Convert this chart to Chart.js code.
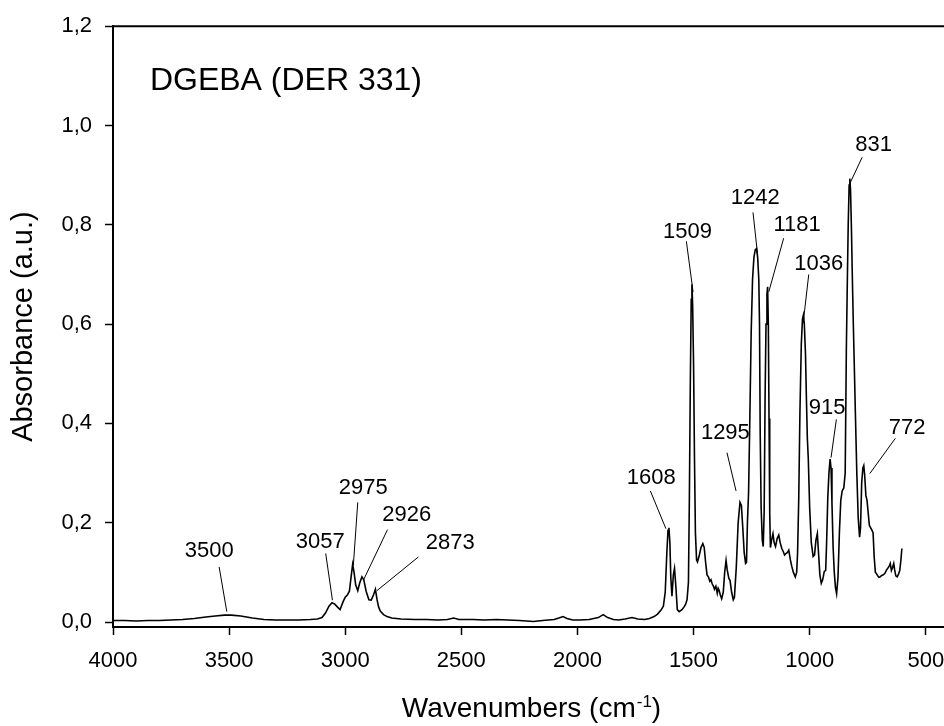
<!DOCTYPE html>
<html>
<head>
<meta charset="utf-8">
<script src="https://cdn.jsdelivr.net/npm/chart.js@4.4.0/dist/chart.umd.min.js"></script>
<style>
  html, body { margin: 0; padding: 0; background: #fff; overflow: hidden; }
  #wrap { width: 952px; height: 726px; }
</style>
</head>
<body>
<div id="wrap"><canvas id="ftirChart" width="952" height="726"></canvas></div>
<script>
// FTIR spectrum (wavenumber in cm-1, absorbance)
const wavenumbers = [
  4000, 3950, 3900, 3850, 3800, 3750, 3700, 3650, 3600, 3560, 3520, 3490, 3450, 3400, 3350, 3300,
  3250, 3200, 3150, 3120, 3100, 3085, 3070, 3057, 3045, 3033, 3022, 3010, 3000, 2990, 2982, 2975,
  2968, 2962, 2955, 2946, 2938, 2928, 2920, 2910, 2898, 2888, 2878, 2870, 2863, 2856, 2849, 2835,
  2820, 2800, 2760, 2700, 2650, 2600, 2560, 2533, 2510, 2450, 2400, 2350, 2300, 2250, 2190, 2150,
  2100, 2080, 2062, 2045, 2020, 1990, 1950, 1910, 1889, 1870, 1845, 1822, 1795, 1765, 1740, 1710,
  1690, 1670, 1655, 1640, 1630, 1622, 1615, 1610, 1606, 1602, 1598, 1593, 1587, 1582, 1576, 1570,
  1562, 1550, 1540, 1534, 1528, 1522, 1518, 1514, 1510, 1507, 1504, 1500, 1496, 1492, 1487, 1483,
  1475, 1468, 1460, 1454, 1448, 1442, 1436, 1430, 1425, 1420, 1414, 1410, 1404, 1398, 1394, 1390,
  1385, 1379, 1372, 1366, 1360, 1355, 1348, 1343, 1336, 1329, 1324, 1316, 1308, 1300, 1294, 1288,
  1282, 1276, 1272, 1268, 1263, 1258, 1252, 1246, 1240, 1234, 1229, 1224, 1219, 1216, 1213, 1209,
  1204, 1200, 1196, 1192, 1188, 1184, 1181, 1178, 1175, 1172, 1169, 1164, 1158, 1153, 1147, 1140,
  1133, 1127, 1120, 1114, 1108, 1102, 1096, 1090, 1083, 1077, 1070, 1062, 1056, 1052, 1047, 1042,
  1036, 1031, 1027, 1023, 1018, 1014, 1010, 1006, 1000, 993, 985, 979, 973, 967, 962, 956,
  950, 944, 937, 931, 927, 922, 917, 912, 908, 904, 899, 894, 889, 884, 878, 872,
  866, 860, 853, 847, 842, 838, 834, 830, 827, 824, 820, 817, 812, 808, 803, 797,
  791, 785, 781, 776, 771, 767, 763, 758, 753, 748, 743, 739, 733, 727, 722, 717,
  713, 708, 702, 696, 690, 683, 676, 670, 664, 658, 653, 648, 643, 638, 634, 629,
  623, 617, 612, 607, 603
];
const absorbance = [
  0.003, 0.003, 0.002, 0.003, 0.003, 0.004, 0.005, 0.007, 0.010, 0.012, 0.014, 0.014, 0.012, 0.008, 0.005, 0.004,
  0.004, 0.004, 0.005, 0.006, 0.009, 0.018, 0.032, 0.039, 0.036, 0.030, 0.025, 0.040, 0.050, 0.055, 0.062, 0.090,
  0.116, 0.100, 0.075, 0.063, 0.078, 0.091, 0.085, 0.062, 0.045, 0.044, 0.055, 0.066, 0.045, 0.030, 0.022, 0.015,
  0.011, 0.008, 0.006, 0.005, 0.005, 0.004, 0.005, 0.008, 0.005, 0.005, 0.004, 0.005, 0.004, 0.003, 0.001, 0.003,
  0.005, 0.008, 0.011, 0.007, 0.004, 0.004, 0.005, 0.009, 0.015, 0.009, 0.005, 0.004, 0.006, 0.009, 0.006, 0.005,
  0.007, 0.011, 0.016, 0.024, 0.032, 0.060, 0.140, 0.185, 0.190, 0.160, 0.090, 0.052, 0.095, 0.108, 0.070, 0.025,
  0.021, 0.025, 0.031, 0.036, 0.045, 0.080, 0.250, 0.480, 0.650, 0.680, 0.640, 0.520, 0.330, 0.180, 0.125, 0.121,
  0.135, 0.150, 0.158, 0.150, 0.120, 0.095, 0.091, 0.082, 0.085, 0.077, 0.072, 0.066, 0.072, 0.058, 0.068, 0.064,
  0.055, 0.047, 0.060, 0.100, 0.124, 0.105, 0.088, 0.084, 0.060, 0.045, 0.050, 0.110, 0.200, 0.241, 0.235, 0.190,
  0.140, 0.118, 0.120, 0.200, 0.262, 0.400, 0.580, 0.690, 0.735, 0.750, 0.752, 0.735, 0.690, 0.600, 0.380, 0.230,
  0.165, 0.152, 0.220, 0.450, 0.600, 0.660, 0.675, 0.600, 0.410, 0.220, 0.150, 0.165, 0.178, 0.160, 0.152, 0.168,
  0.175, 0.160, 0.148, 0.142, 0.135, 0.138, 0.140, 0.145, 0.125, 0.112, 0.100, 0.091, 0.100, 0.140, 0.250, 0.420,
  0.560, 0.610, 0.618, 0.600, 0.540, 0.450, 0.370, 0.330, 0.230, 0.160, 0.132, 0.135, 0.165, 0.178, 0.140, 0.095,
  0.078, 0.085, 0.102, 0.104, 0.160, 0.250, 0.300, 0.328, 0.310, 0.240, 0.150, 0.100, 0.070, 0.057, 0.090, 0.180,
  0.245, 0.264, 0.270, 0.300, 0.550, 0.680, 0.800, 0.880, 0.893, 0.870, 0.790, 0.712, 0.600, 0.520, 0.418, 0.300,
  0.210, 0.171, 0.190, 0.280, 0.310, 0.315, 0.295, 0.255, 0.245, 0.220, 0.195, 0.191, 0.186, 0.180, 0.130, 0.100,
  0.098, 0.094, 0.090, 0.091, 0.094, 0.095, 0.098, 0.104, 0.108, 0.112, 0.118, 0.104, 0.110, 0.118, 0.105, 0.093,
  0.091, 0.097, 0.104, 0.125, 0.148
];

const xTickValues = [500, 1000, 1500, 2000, 2500, 3000, 3500, 4000];
const yTickValues = [0, 0.2, 0.4, 0.6, 0.8, 1.0, 1.2];

// peak labels: text centre and leader line ends, in data units
const peakLabels   = ['3500', '3057', '2975', '2926', '2873', '1608', '1509', '1295', '1242', '1181', '1036', '915', '831', '772'];
const peakTextWn   = [3586, 3108, 2922, 2735, 2548, 1682, 1526, 1363, 1234, 1054, 961, 925, 725, 580];
const peakTextAbs  = [0.144, 0.161, 0.271, 0.216, 0.159, 0.291, 0.785, 0.381, 0.855, 0.799, 0.722, 0.431, 0.960, 0.390];
const leadFromWn   = [3543, 3084, 2946, 2818, 2685, 1686, 1531, 1356, 1244, 1112, 1004, 885, 774, 631];
const leadFromAbs  = [0.111, 0.138, 0.241, 0.186, 0.131, 0.264, 0.767, 0.341, 0.825, 0.773, 0.700, 0.408, 0.936, 0.370];
const leadToWn     = [3510, 3055, 2965, 2922, 2864, 1619, 1502, 1317, 1224, 1176, 1028, 908, 828, 741];
const leadToAbs    = [0.021, 0.044, 0.114, 0.084, 0.063, 0.188, 0.665, 0.264, 0.739, 0.665, 0.602, 0.331, 0.882, 0.299];

const sampleName = 'DGEBA (DER 331)';
const sampleWn = 3841;
const sampleAbs = 1.089;

const FONT = "'Liberation Sans', Arial, sans-serif";

const annotations = {
  id: 'annotations',
  afterDraw(chart) {
    const ctx = chart.ctx;
    const x = chart.scales.x;
    const y = chart.scales.y;
    const area = chart.chartArea;
    ctx.save();

    // top and right frame
    ctx.strokeStyle = '#000';
    ctx.lineWidth = 2;
    ctx.beginPath();
    ctx.moveTo(area.left, area.top);
    ctx.lineTo(area.right, area.top);
    ctx.lineTo(area.right, area.bottom);
    ctx.stroke();

    // leader lines
    ctx.lineWidth = 1;
    peakLabels.forEach((lbl, i) => {
      ctx.beginPath();
      ctx.moveTo(x.getPixelForValue(leadFromWn[i]), y.getPixelForValue(leadFromAbs[i]));
      ctx.lineTo(x.getPixelForValue(leadToWn[i]), y.getPixelForValue(leadToAbs[i]));
      ctx.stroke();
    });

    ctx.fillStyle = '#000';
    ctx.textAlign = 'center';
    ctx.textBaseline = 'middle';
    ctx.font = '22px ' + FONT;
    peakLabels.forEach((lbl, i) => {
      ctx.fillText(lbl, x.getPixelForValue(peakTextWn[i]), y.getPixelForValue(peakTextAbs[i]));
    });

    ctx.textAlign = 'left';
    ctx.font = '32px ' + FONT;
    ctx.fillText(sampleName, x.getPixelForValue(sampleWn), y.getPixelForValue(sampleAbs));

    // x axis title with superscript
    const main = 'Wavenumbers (cm';
    const sup = '-1';
    const close = ')';
    ctx.font = '28px ' + FONT;
    const wMain = ctx.measureText(main).width;
    const wClose = ctx.measureText(close).width;
    ctx.font = '17px ' + FONT;
    const wSup = ctx.measureText(sup).width;
    const total = wMain + wSup + wClose;
    let tx = (area.left + area.right) / 2 - total / 2;
    const baseY = 717;
    ctx.textBaseline = 'alphabetic';
    ctx.font = '28px ' + FONT;
    ctx.fillText(main, tx, baseY);
    tx += wMain;
    ctx.font = '17px ' + FONT;
    ctx.fillText(sup, tx + 1, baseY - 10);
    tx += wSup + 1;
    ctx.font = '28px ' + FONT;
    ctx.fillText(close, tx, baseY);
    ctx.restore();
  }
};

const ctx = document.getElementById('ftirChart').getContext('2d');
const spectrumChart = new Chart(ctx, {
  type: 'line',
  data: {
    datasets: [{
      label: 'DGEBA',
      data: wavenumbers.map((w, i) => ({ x: w, y: absorbance[i] })),
      borderColor: '#000',
      borderWidth: 1.6,
      pointRadius: 0,
      fill: false,
      tension: 0,
    }],
  },
  options: {
    responsive: false,
    animation: false,
    devicePixelRatio: 1,
    layout: {
      padding: { top: 23, right: 3, left: 0, bottom: 0 },
    },
    plugins: {
      legend: { display: false },
      tooltip: { enabled: false },
    },
    scales: {
      x: {
        type: 'linear',
        reverse: true,
        min: 400,
        max: 4000,
        afterBuildTicks: scale => { scale.ticks = xTickValues.map(v => ({ value: v })); },
        afterFit: scale => { scale.height = 99; },
        grid: { drawOnChartArea: false, drawTicks: true, tickLength: 8, tickWidth: 1.5, tickColor: '#000' },
        border: { display: true, color: '#000', width: 2 },
        ticks: {
          color: '#000',
          font: { family: FONT, size: 22 },
          padding: 13,
          maxRotation: 0,
          autoSkip: false,
          callback: v => String(v),
        },
        title: { display: false },
      },
      y: {
        type: 'linear',
        min: -0.01,
        max: 1.2,
        afterBuildTicks: scale => { scale.ticks = yTickValues.map(v => ({ value: v })); },
        afterFit: scale => { scale.width = 113; },
        grid: { drawOnChartArea: false, drawTicks: true, tickLength: 8, tickWidth: 1.5, tickColor: '#000' },
        border: { display: true, color: '#000', width: 2 },
        ticks: {
          color: '#000',
          font: { family: FONT, size: 22 },
          padding: 13,
          callback: v => v.toFixed(1).replace('.', ','),
        },
        title: {
          display: true,
          text: 'Absorbance (a.u.)',
          color: '#000',
          font: { family: FONT, size: 29 },
          padding: { top: 7, bottom: 0 },
        },
      },
    },
  },
  plugins: [annotations],
});
</script>
</body>
</html>
